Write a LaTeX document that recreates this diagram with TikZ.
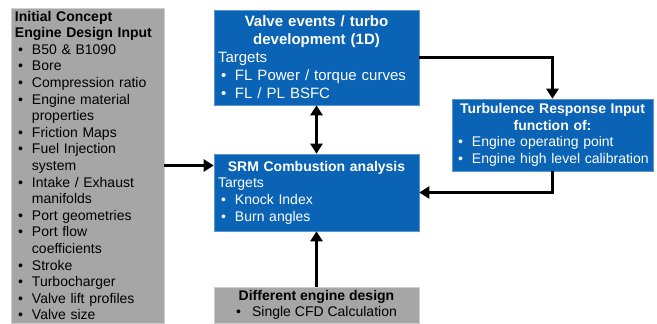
\documentclass[tikz,border=0pt]{standalone}
\usepackage{fontspec}
\setmainfont{Liberation Sans}
\usetikzlibrary{calc,positioning,arrows,arrows.meta}
\definecolor{boxblue}{RGB}{10,99,180}
\definecolor{edgeblue}{RGB}{90,150,210}
\definecolor{boxgrey}{RGB}{166,166,166}
\definecolor{edgegrey}{RGB}{205,205,205}
\newcommand{\bul}{\makebox[17pt][l]{\hspace{3pt}\textbullet}}
\newcommand{\bulgap}{\hspace*{17pt}}

\begin{document}
\begin{tikzpicture}[x=1pt,y=-1pt]
\tikzstyle{greybox}=[rectangle, draw=edgegrey, fill=boxgrey, line width=0.6pt,
                     inner xsep=4pt, inner ysep=0pt, align=left,
                     font=\fontsize{14}{16.6}\selectfont]
\tikzstyle{bluebox}=[rectangle, draw=edgeblue, fill=boxblue, text=white,
                     line width=0.6pt, inner xsep=4pt, inner ysep=0pt, align=left,
                     font=\fontsize{14}{16.6}\selectfont]
\tikzstyle{link}=[line width=3pt, -{Triangle[length=10pt,width=12pt]}]
\useasboundingbox (0,0) rectangle (657,324);
\node[greybox, minimum width=153pt, minimum height=315pt, text width=145pt] (input) at (87.5,165.5)
  {\textbf{Initial Concept\\Engine Design Input}\\
   \bul B50 \& B1090\\
   \bul Bore\\
   \bul Compression ratio\\
   \bul Engine material\\
   \bulgap properties\\
   \bul Friction Maps\\
   \bul Fuel Injection\\
   \bulgap system\\
   \bul Intake / Exhaust\\
   \bulgap manifolds\\
   \bul Port geometries\\
   \bul Port flow\\
   \bulgap coefficients\\
   \bul Stroke\\
   \bul Turbocharger\\
   \bul Valve lift profiles\\
   \bul Valve size};
\node[bluebox, minimum width=205pt, minimum height=95pt, text width=197pt,
      font=\fontsize{15}{18}\selectfont] (valve) at (316.5,57.5)
  {{\centering\bfseries Valve events / turbo\\development (1D)\par}
   Targets\\
   \bul FL Power / torque curves\\
   \bul FL / PL BSFC};
\node[bluebox, minimum width=205pt, minimum height=77pt, text width=197pt] (srm) at (316.5,192.5)
  {{\centering\bfseries SRM Combustion analysis\par}
   Targets\\
   \bul Knock Index\\
   \bul Burn angles};
\node[bluebox, minimum width=201pt, minimum height=72pt, inner xsep=3pt, text width=195pt] (turb) at (552.5,135)
  {{\centering\bfseries Turbulence Response Input\\function of:\par}
   \bul Engine operating point\\
   \bul Engine high level calibration};
\node[greybox, minimum width=205pt, minimum height=36pt, align=center] (design) at (316.5,305)
  {\textbf{Different engine design}\\
   \makebox[16pt][l]{\textbullet}Single CFD Calculation};
% connectors
\draw[link] (input.east) -- (input.east -| srm.west);
\draw[link, {Triangle[length=10pt,width=12pt]}-{Triangle[length=10pt,width=12pt]}] (valve.south) -- (srm.north);
\draw[link] (valve.east) -| (turb.north);
\draw[link] (turb.south) |- (srm.east);
\draw[link] (design.north) -- (srm.south);
\end{tikzpicture}
\end{document}
